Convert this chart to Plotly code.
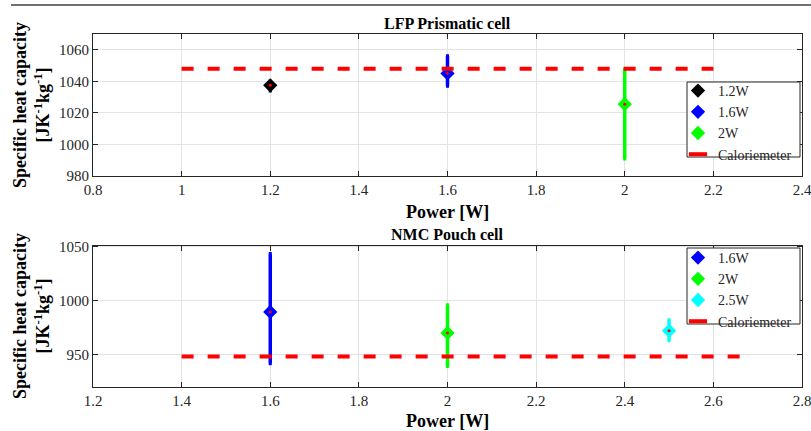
import plotly.graph_objects as go

# ---- data ----
lfp_labels = ["1.2W", "1.6W", "2W"]
lfp_power = [1.2, 1.6, 2.0]
lfp_cp = [1037.5, 1045.0, 1025.5]
lfp_err_plus = [2.5, 11.0, 22.0]
lfp_err_minus = [3.5, 8.0, 34.5]
lfp_cal_x = [1.0, 2.2]
lfp_cal_y = [1048, 1048]

nmc_labels = ["1.6W", "2W", "2.5W"]
nmc_power = [1.6, 2.0, 2.5]
nmc_cp = [989.5, 970.0, 972.0]
nmc_err_plus = [54.0, 26.0, 10.0]
nmc_err_minus = [48.0, 31.0, 9.0]
nmc_cal_x = [1.4, 2.68]
nmc_cal_y = [948, 948]

lfp_colors = ["#000000", "#0000ff", "#00ff00"]
nmc_colors = ["#0000ff", "#00ff00", "#00ffff"]

FONT = "Liberation Serif, Times New Roman, serif"
W, H = 811, 431

fig = go.Figure()


def add_panel(labels, xs, ys, ep, em, colors, calx, caly, xa, ya, legend):
    for i in range(len(xs)):
        fig.add_trace(go.Scatter(
            x=[xs[i]], y=[ys[i]], mode="markers", name=labels[i],
            xaxis=xa, yaxis=ya, legend=legend,
            marker=dict(symbol="diamond", size=11, color=colors[i],
                        line=dict(width=0)),
            error_y=dict(type="data", symmetric=False, array=[ep[i]],
                         arrayminus=[em[i]], color=colors[i],
                         thickness=3.5, width=1.5),
        ))
        fig.add_trace(go.Scatter(
            x=[xs[i]], y=[ys[i]], mode="markers", showlegend=False,
            xaxis=xa, yaxis=ya, hoverinfo="skip",
            marker=dict(symbol="circle", size=3, color="#ff0000"),
        ))
    fig.add_trace(go.Scatter(
        x=calx, y=caly, mode="lines", name="Caloriemeter", showlegend=False,
        xaxis=xa, yaxis=ya,
        line=dict(color="#ff0000", width=4, dash="12px,14px"),
    ))
    # legend entry for the calorimeter line (one short dash)
    fig.add_trace(go.Scatter(
        x=[None], y=[None], mode="markers", name="Caloriemeter",
        xaxis=xa, yaxis=ya, legend=legend,
        marker=dict(symbol="line-ew", size=13, color="#ff0000",
                    line=dict(color="#ff0000", width=4)),
    ))


add_panel(lfp_labels, lfp_power, lfp_cp, lfp_err_plus, lfp_err_minus,
          lfp_colors, lfp_cal_x, lfp_cal_y, "x", "y", "legend")
add_panel(nmc_labels, nmc_power, nmc_cp, nmc_err_plus, nmc_err_minus,
          nmc_colors, nmc_cal_x, nmc_cal_y, "x2", "y2", "legend2")

xdom = [93 / W, 802 / W]
axis_common = dict(
    showline=True, linecolor="#262626", linewidth=1, mirror="ticks",
    ticks="inside", ticklen=5, tickcolor="#262626",
    showgrid=True, gridcolor="#e3e3e3", gridwidth=1, zeroline=False,
    ticklabeloverflow="allow", automargin=False,
    tickfont=dict(family=FONT, size=15, color="#262626"),
)

legend_common = dict(
    xanchor="left", yanchor="top", bgcolor="rgba(0,0,0,0)",
    borderwidth=0, font=dict(family=FONT, size=14, color="#262626"),
    itemwidth=30, tracegroupgap=0,
)

fig.update_layout(
    template="none",
    width=W, height=H,
    margin=dict(l=0, r=0, t=0, b=0, autoexpand=False),
    paper_bgcolor="white", plot_bgcolor="white",
    showlegend=True,
    font=dict(family=FONT),
    xaxis=dict(domain=xdom, range=[0.8, 2.4], dtick=0.2, anchor="y",
               tickformat="~g", **axis_common),
    yaxis=dict(domain=[1 - 176 / H, 1 - 34 / H], range=[980, 1070],
               tickvals=[980, 1000, 1020, 1040, 1060], anchor="x", **axis_common),
    xaxis2=dict(domain=xdom, range=[1.2, 2.8], dtick=0.2, anchor="y2",
                tickformat="~g", **axis_common),
    yaxis2=dict(domain=[1 - 387.3 / H, 1 - 245.7 / H], range=[919.5, 1051],
                tickvals=[950, 1000, 1050], anchor="x2", **axis_common),
    legend=dict(x=678 / W, y=1 - 75 / H, **legend_common),
    legend2=dict(x=678 / W, y=1 - 242 / H, **legend_common),
)

# legend frames (white boxes behind the legend entries)
for y0, y1 in [(82, 157), (248, 324)]:
    fig.add_shape(type="rect", xref="paper", yref="paper", layer="above",
                  x0=687 / W, x1=800 / W, y0=1 - y1 / H, y1=1 - y0 / H,
                  fillcolor="white", line=dict(color="#262626", width=1))

annotations = [
    dict(text="<b>LFP Prismatic cell</b>", x=448 / W, y=1 - 23 / H, size=16),
    dict(text="<b>NMC Pouch cell</b>", x=448 / W, y=1 - 234 / H, size=16),
    dict(text="<b>Power [W]</b>", x=448 / W, y=1 - 212 / H, size=18),
    dict(text="<b>Power [W]</b>", x=448 / W, y=1 - 421 / H, size=18),
    dict(text="<b>Specific heat capacity<br>[JK<sup>-1</sup>kg<sup>-1</sup>]</b>",
         x=31 / W, y=1 - 105 / H, size=18, angle=-90),
    dict(text="<b>Specific heat capacity<br>[JK<sup>-1</sup>kg<sup>-1</sup>]</b>",
         x=31 / W, y=1 - 316 / H, size=18, angle=-90),
]
for a in annotations:
    fig.add_annotation(
        text=a["text"], x=a["x"], y=a["y"], xref="paper", yref="paper",
        xanchor="center", yanchor="middle", showarrow=False,
        textangle=a.get("angle", 0),
        font=dict(family=FONT, size=a.get("size", 15), color="#000000"),
    )

fig.add_shape(type="line", xref="paper", yref="paper", layer="above",
              x0=11 / W, x1=1, y0=1 - 5 / H, y1=1 - 5 / H,
              line=dict(color="#404040", width=1.5))

fig.write_html("out.html",
               config={"displayModeBar": False},
               post_script="document.body.style.margin='0px';"
                           "document.body.style.overflow='hidden';")
